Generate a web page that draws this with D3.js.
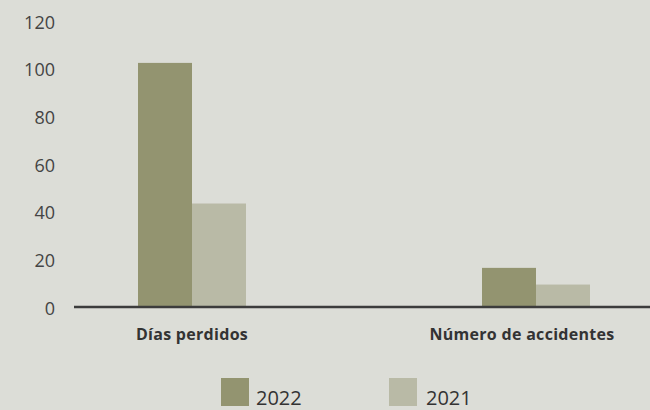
<!DOCTYPE html>
<html>
<head>
<meta charset="utf-8">
<script src="https://cdn.jsdelivr.net/npm/d3@7"></script>
<style>
  body { margin: 0; background: #dcddd7; }
  svg { display: block; font-family: "Open Sans", sans-serif; }
</style>
</head>
<body>
<svg width="650" height="410"></svg>
<script>
const categories = ['Días perdidos', 'Número de accidentes'];
const years = ['2022', '2021'];
const values2022 = [102, 16];
const values2021 = [43, 9];
const yTicks = [0, 20, 40, 60, 80, 100, 120];

const colors = d3.scaleOrdinal().domain(years).range(['#939470', '#b9baa6']);
const svg = d3.select('svg');

const x = d3.scaleBand()
    .domain(categories)
    .range([20, 708])
    .paddingInner(0)
    .paddingOuter(0);
const barW = 54;
const xs = d3.scaleBand().domain(years).range([0, barW * 2]);

const y = d3.scaleLinear().domain([0, 120]).range([306, 20]);

// y tick labels
svg.append('g')
    .selectAll('text')
    .data(yTicks)
    .enter()
    .append('text')
    .attr('x', 55)
    .attr('y', d => y(d) + 8.5)
    .attr('text-anchor', 'end')
    .style('font-size', '18px')
    .style('fill', '#444')
    .text(d => d);

const rows = categories.map((c, i) => ({cat: c, vals: [values2022[i], values2021[i]]}));

const groups = svg.selectAll('g.grp')
    .data(rows)
    .enter()
    .append('g')
    .attr('class', 'grp')
    .attr('transform', d => `translate(${x(d.cat) + x.bandwidth() / 2 - barW}, 0)`);

groups.selectAll('rect')
    .data(d => d.vals.map((v, i) => ({year: years[i], v})))
    .enter()
    .append('rect')
    .attr('x', d => xs(d.year))
    .attr('width', xs.bandwidth())
    .attr('y', d => y(d.v))
    .attr('height', d => y(0) - y(d.v))
    .style('fill', d => colors(d.year));

// baseline
svg.append('line')
    .attr('x1', 74).attr('x2', 650)
    .attr('y1', y(0) + 1).attr('y2', y(0) + 1)
    .style('stroke', '#3c3c3c')
    .style('stroke-width', 2.5);

// category labels (the last one sits a bit left of its bars, as in the original)
svg.append('g')
    .selectAll('text')
    .data(categories)
    .enter()
    .append('text')
    .attr('x', (d, i) => x(d) + x.bandwidth() / 2 - (i === 1 ? 14 : 0))
    .attr('y', 340)
    .attr('text-anchor', 'middle')
    .style('font-size', '16px')
    .style('letter-spacing', '0.3px')
    .style('font-weight', 'bold')
    .style('fill', '#333')
    .text(d => d);

// legend
const legend = svg.append('g')
    .selectAll('g')
    .data(years)
    .enter()
    .append('g')
    .attr('transform', (d, i) => `translate(${221 + i * 168}, 378)`);
legend.append('rect')
    .attr('width', 28).attr('height', 28)
    .style('fill', d => colors(d));
legend.append('text')
    .attr('x', d => d === '2022' ? 35 : 37)
    .attr('y', 27)
    .style('font-size', '20px')
    .style('fill', '#333')
    .text(d => d);
</script>
</body>
</html>
